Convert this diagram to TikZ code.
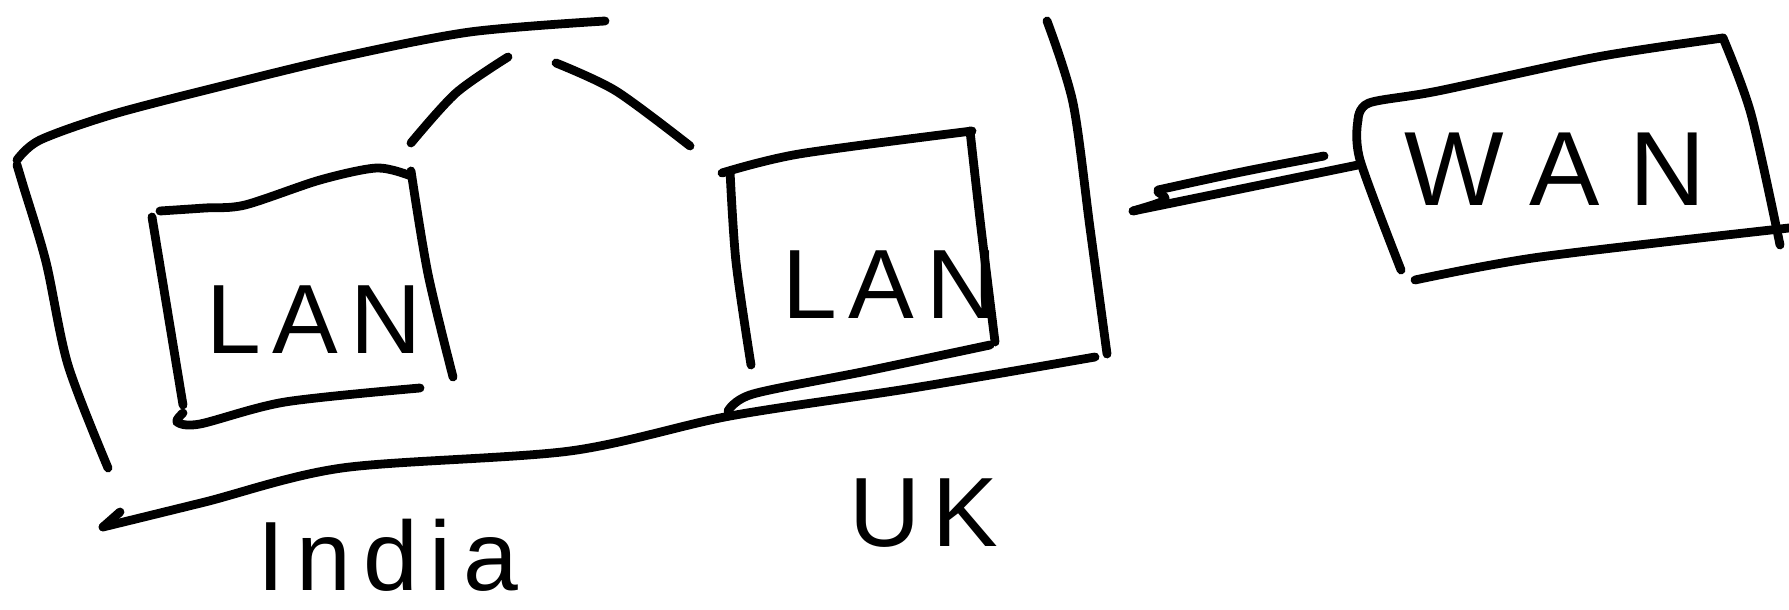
\documentclass[tikz,border=0pt]{standalone}
\usepackage{fontspec}
\setmainfont{Liberation Sans}
\tikzset{
 pen/.style={line width=2.5pt,line cap=round,line join=round},
 word/.style={font=\fontsize{28}{30}\selectfont\addfontfeatures{LetterSpace=12},inner sep=0pt}
}
\begin{document}
\begin{tikzpicture}[x=0.01cm,y=-0.01cm]
\useasboundingbox (0,0) rectangle (1789,610);
% big box round both LANs
\draw[pen] plot[smooth] coordinates {(17,160) (40,140) (114,114) (230,84) (342,57) (470,32) (605,21)};
\draw[pen] plot[smooth] coordinates {(17,165) (23,185) (46,262) (68,365) (108,468)};
\draw[pen] plot[smooth] coordinates {(1047,21) (1073,103) (1090,228) (1107,354)};
\draw[pen] plot[smooth] coordinates {(1095,357) (913,388) (730,416) (570,451) (342,468) (205,502) (103,527)};
\draw[pen] (103,527) -- (120,512);
% arch
\draw[pen] plot[smooth] coordinates {(411,143) (456,93) (508,57)};
\draw[pen] plot[smooth] coordinates {(556,63) (616,91) (690,146)};
% left LAN
\draw[pen] plot[smooth] coordinates {(160,211) (205,208) (245,205) (320,180) (377,168) (411,176)};
\draw[pen] (152,217) -- (183,405);
\draw[pen] plot[smooth] coordinates {(411,171) (428,274) (453,377)};
\draw[pen] plot[smooth] coordinates {(183,413) (177,422) (200,424) (285,402) (420,388)};
\node[word] (lanA) at (314,320) {LAN};
% right LAN
\draw[pen] plot[smooth] coordinates {(722,173) (799,154) (972,131)};
\draw[pen] plot[smooth] coordinates {(730,171) (736,262) (751,365)};
\draw[pen] plot[smooth] coordinates {(970,131) (981,228) (995,342)};
\draw[pen] plot[smooth] coordinates {(728,411) (753,394) (867,371) (990,345)};
\node[word] (lanB) at (890,285) {LAN};
% WAN
\draw[pen] plot[smooth] coordinates {(1358,120) (1369,103) (1438,91) (1597,57) (1723,38)};
\draw[pen] plot[smooth] coordinates {(1358,120) (1360,160) (1401,270)};
\draw[pen] plot[smooth] coordinates {(1723,38) (1751,114) (1780,245)};
\draw[pen] plot[smooth] coordinates {(1415,280) (1540,257) (1789,228)};
\node[word,font=\fontsize{30}{32}\selectfont\addfontfeatures{LetterSpace=28}] (wan) at (1555,169) {WAN};
% link
\coordinate (linkL) at (1133,211);
\coordinate (linkR) at (1358,165);
\draw[pen] (linkL) -- (linkR);
\draw[pen] (1158,190) .. controls (1240,172) .. (1324,156);
\draw[pen] (1133,211) .. controls (1170,200) .. (1158,192);
% countries
\node[word] (uk) at (924,513) {UK};
\node[word] (india) at (388,555) {India};
\end{tikzpicture}
\end{document}
